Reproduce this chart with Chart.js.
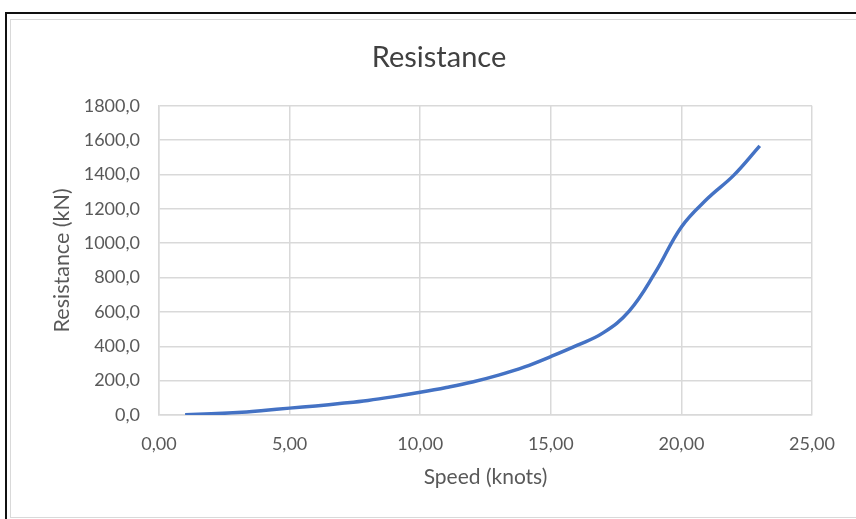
<!DOCTYPE html>
<html>
<head>
<meta charset="utf-8">
<script src="https://cdn.jsdelivr.net/npm/chart.js@4.4.1/dist/chart.umd.min.js"></script>
<style>
  html, body { margin: 0; padding: 0; background: #fff; }
  #wrap { position: relative; width: 856px; height: 519px; overflow: hidden; }
  #outer { position: absolute; left: 5px; top: 12px; width: 900px; height: 600px;
           border-top: 2px solid #111; border-left: 2px solid #111; }
  #inner { position: absolute; left: 10px; top: 19px; width: 900px; height: 497px;
           border: 1px solid #d9d9d9; }
  canvas { position: absolute; left: 0; top: 0; }
</style>
</head>
<body>
<div id="wrap">
  <div id="outer"></div>
  <div id="inner"></div>
  <canvas id="resistance" width="856" height="519"></canvas>
</div>
<script>
// speed in knots, resistance in kN
const speeds = [1, 2, 3, 4, 5, 6, 7, 8, 9, 10, 11, 12, 13, 14, 15, 16, 17, 18, 19, 20, 21, 22, 23];
const resistance = [2, 7, 14, 26, 40, 53, 68, 85, 107, 132, 160, 192, 232, 280, 340, 405, 478, 605, 830, 1095, 1260, 1395, 1567];

const xTicks = { min: 0, max: 25, step: 5 };
const yTicks = { min: 0, max: 1800, step: 200 };

const FONT = 'Lato, "Open Sans", sans-serif';
const GREY = '#595959';

const comma = (v, d) => Number(v).toFixed(d).replace('.', ',');

new Chart(document.getElementById('resistance'), {
    type: 'scatter',
    data: {
        datasets: [{
            data: speeds.map((s, i) => ({ x: s, y: resistance[i] })),
            showLine: true,
            borderColor: '#4472C4',
            borderWidth: 3.5,
            pointRadius: 0,
            tension: 0.4,
            fill: false
        }]
    },
    options: {
        responsive: false,
        animation: false,
        // left padding also centres the title box
        layout: { padding: { left: 66, right: 44, top: 0, bottom: 0 } },
        plugins: {
            legend: { display: false },
            tooltip: { enabled: false },
            title: {
                display: true,
                text: 'Resistance',
                color: '#404040',
                font: { family: FONT, size: 29, weight: 'normal', lineHeight: 1.2 },
                padding: { top: 40, bottom: 31 }
            }
        },
        scales: {
            x: {
                type: 'linear',
                min: xTicks.min,
                max: xTicks.max,
                afterFit: s => { s.height = 104; },
                ticks: {
                    stepSize: xTicks.step,
                    color: GREY,
                    padding: 18,
                    maxRotation: 0,
                    font: { family: FONT, size: 18 },
                    callback: v => comma(v, 2)
                },
                grid: { color: '#d9d9d9', lineWidth: 1.5, drawTicks: false },
                border: { color: '#d9d9d9', width: 1.5 },
                title: {
                    display: true,
                    text: 'Speed (knots)',
                    color: GREY,
                    font: { family: FONT, size: 21, lineHeight: 1.2 },
                    padding: { top: 0, bottom: 29 }
                }
            },
            y: {
                type: 'linear',
                min: yTicks.min,
                max: yTicks.max,
                afterFit: s => { s.width = 93; },
                ticks: {
                    stepSize: yTicks.step,
                    color: GREY,
                    padding: 19,
                    font: { family: FONT, size: 18 },
                    callback: v => comma(v, 1)
                },
                grid: { color: '#d9d9d9', lineWidth: 1.5, drawTicks: false },
                border: { color: '#d9d9d9', width: 1.5 },
                title: {
                    display: true,
                    text: 'Resistance (kN)',
                    color: GREY,
                    font: { family: FONT, size: 21.5, lineHeight: 1.2 },
                    padding: { top: -17, bottom: 0 }
                }
            }
        }
    }
});
</script>
</body>
</html>
